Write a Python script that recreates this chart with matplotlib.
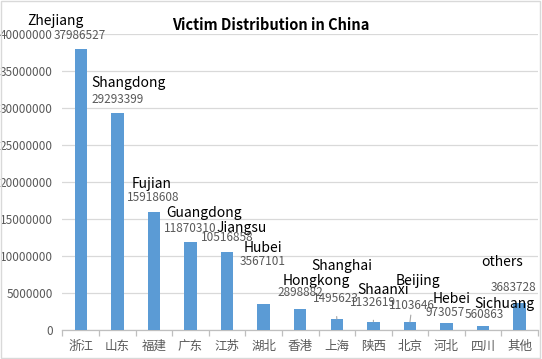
import matplotlib
matplotlib.use('Agg')
import matplotlib.pyplot as plt
import numpy as np
from matplotlib.patches import Rectangle
from matplotlib.ticker import FixedLocator

plt.rcParams['font.family'] = ['Noto Sans CJK SC', 'DejaVu Sans']

# data
provinces = ['浙江', '山东', '福建', '广东', '江苏', '湖北', '香港', '上海',
             '陕西', '北京', '河北', '四川', '其他']
names = ['Zhejiang', 'Shangdong', 'Fujian', 'Guangdong', 'Jiangsu', 'Hubei',
         'Hongkong', 'Shanghai', 'Shaanxi', 'Beijing', 'Hebei', 'Sichuang',
         'others']
victims = [37986527, 29293399, 15918608, 11870310, 10516858, 3567101,
           2898882, 1495623, 1132619, 1103646, 973057, 560863, 3683728]

# label offsets (pixels from bar top), like dragged excel labels
name_off = [(-25, 28), (11, 30), (-2, 28), (14, 29), (15, 24), (-1, 56),
            (16, 28), (5, 53), (10, 32), (8, 41), (5, 24), (21, 22), (-18, 41)]
val_off = [(-1, 14), (0, 14), (-1, 15), (0, 14), (0, 15), (-1, 42),
           (0, 16), (-1, 20), (0, 19), (2, 16), (-1, 10), (1, 11), (-6, 15)]
leader = [7, 8, 9]

fig = plt.figure(figsize=(5.42, 3.59), dpi=100)
ax = fig.add_axes([0.1153, 0.0808, 0.8773, 0.8237])

x = np.arange(len(provinces))
ax.bar(x, victims, width=0.34, color='#5b9bd5', zorder=3)

ax.set_xlim(-0.5, len(provinces) - 0.5)
ax.set_ylim(0, 40000000)
ax.set_yticks(np.arange(0, 40000001, 5000000))
ax.set_yticklabels([str(v) for v in range(0, 40000001, 5000000)])
ax.grid(axis='y', color='#d9d9d9', linewidth=0.9, zorder=0)
ax.set_xticks(x)
ax.set_xticklabels(provinces)
ax.xaxis.set_minor_locator(FixedLocator(np.arange(-0.5, len(provinces), 1)))
ax.tick_params(axis='x', which='major', length=0, pad=7, labelsize=9,
               labelcolor='#595959')
ax.tick_params(axis='x', which='minor', length=4, color='#bfbfbf', width=0.9)
ax.tick_params(axis='y', length=0, pad=7, labelsize=8.5, labelcolor='#595959')
for s in ['top', 'right', 'left']:
    ax.spines[s].set_visible(False)
ax.spines['bottom'].set_color('#bfbfbf')
ax.spines['bottom'].set_linewidth(0.9)

for i in range(len(provinces)):
    ax.annotate(names[i], xy=(x[i], victims[i]), xytext=name_off[i],
                textcoords='offset pixels', ha='center', va='center',
                fontsize=10, color='black', zorder=5)
    if i in leader:
        ax.annotate(str(victims[i]), xy=(x[i], victims[i]), xytext=val_off[i],
                    textcoords='offset pixels', ha='center', va='center',
                    fontsize=8.5, color='#595959', zorder=5,
                    arrowprops=dict(arrowstyle='-', color='#a6a6a6', lw=0.8,
                                    shrinkA=6, shrinkB=0))
    else:
        ax.annotate(str(victims[i]), xy=(x[i], victims[i]), xytext=val_off[i],
                    textcoords='offset pixels', ha='center', va='center',
                    fontsize=8.5, color='#595959', zorder=5)

fig.text(0.5, 0.93, 'Victim Distribution in China', ha='center', va='center',
         fontsize=10.5, fontweight='bold')
fig.patches.append(Rectangle((0.001, 0.004), 0.995, 0.993, transform=fig.transFigure,
                             fill=False, edgecolor='#d9d9d9', linewidth=1))

plt.savefig('out.png', dpi=100)
